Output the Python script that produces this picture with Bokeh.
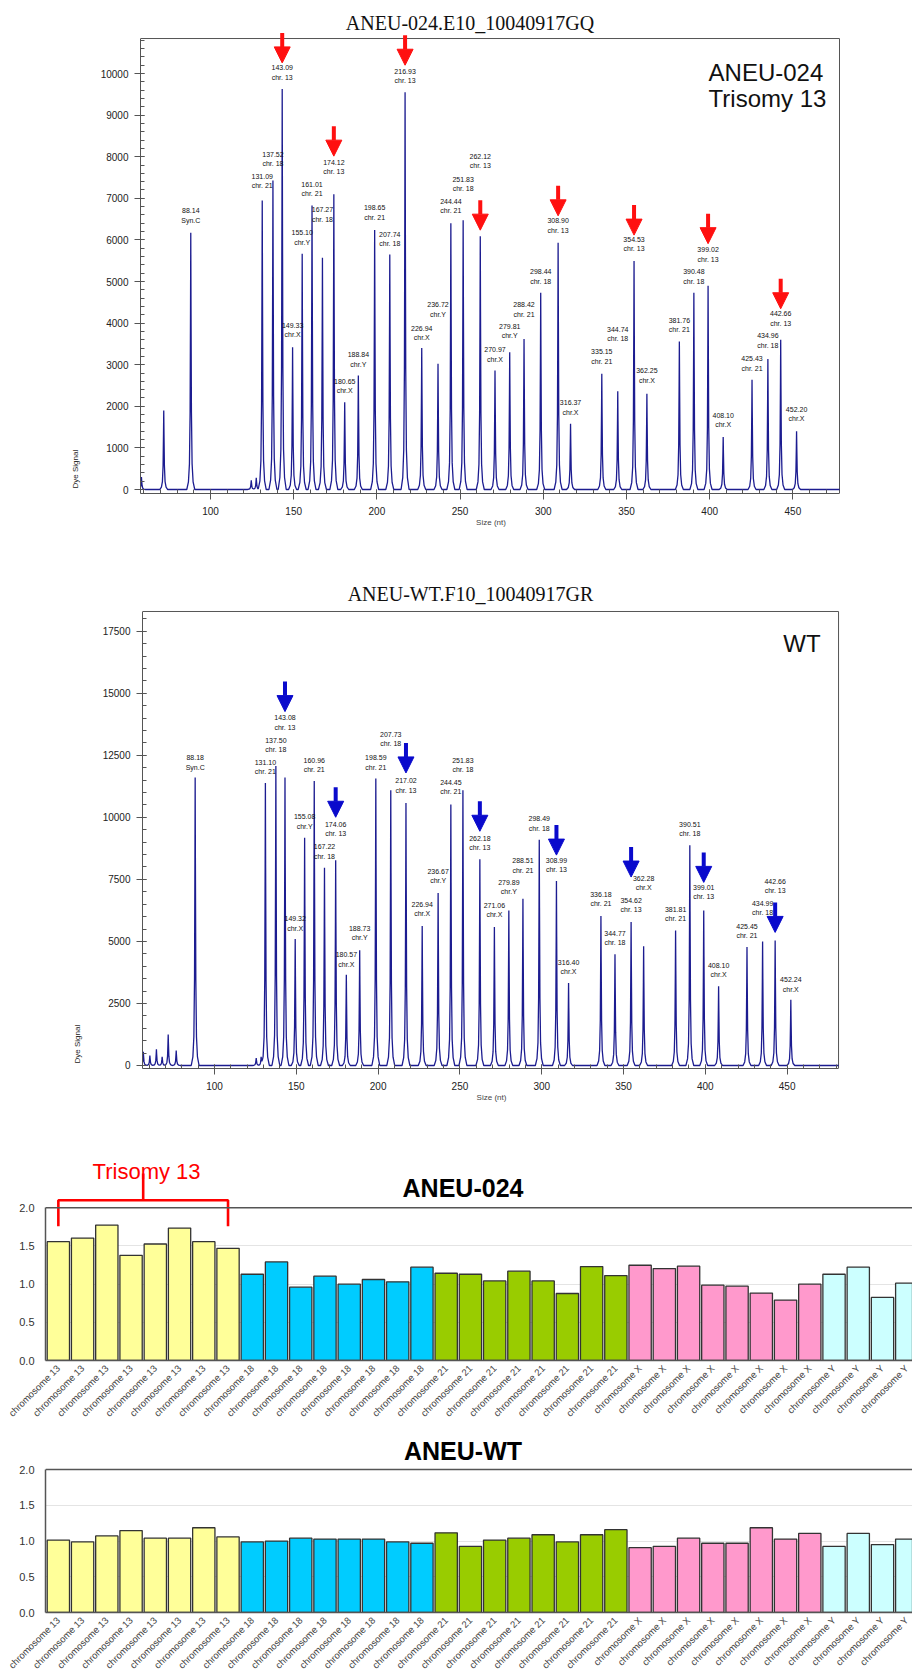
import numpy as np
from bokeh.plotting import figure
from bokeh.models import (Range1d, FixedTicker, Arrow, NormalHead, Span, Title,
                          PrintfTickFormatter, ColumnDataSource)
from bokeh.embed import file_html
from bokeh.resources import INLINE
from bokeh.core.properties import value

# ---------------- DATA: ANEU-024 electropherogram ----------------
a_sizes = [88.14, 131.09, 137.52, 143.09, 149.33, 155.10, 161.01, 167.27, 174.12, 180.65,
           188.84, 198.65, 207.74, 216.93, 226.94, 236.72, 244.44, 251.83, 262.12, 270.97,
           279.81, 288.42, 298.44, 308.90, 316.37, 335.15, 344.74, 354.53, 362.25, 381.76,
           390.48, 399.02, 408.10, 425.43, 434.96, 442.66, 452.20]
a_heights = [6170, 6950, 7430, 9630, 3420, 5670, 6830, 5570, 7100, 2100,
             2740, 6240, 5650, 9550, 3400, 3020, 6400, 6470, 6090, 2860,
             3300, 3620, 4730, 5930, 1580, 2780, 2360, 5490, 2300, 3560,
             4730, 4900, 1260, 2640, 3140, 3600, 1400]
a_targets = ["Syn.C", "chr. 21", "chr. 18", "chr. 13", "chr.X", "chr.Y", "chr. 21", "chr. 18", "chr. 13", "chr.X",
             "chr.Y", "chr. 21", "chr. 18", "chr. 13", "chr.X", "chr.Y", "chr. 21", "chr. 18", "chr. 13", "chr.X",
             "chr.Y", "chr. 21", "chr. 18", "chr. 13", "chr.X", "chr. 21", "chr. 18", "chr. 13", "chr.X", "chr. 21",
             "chr. 18", "chr. 13", "chr.X", "chr. 21", "chr. 18", "chr. 13", "chr.X"]
a_small_sizes = [58.5, 71.9, 124.5, 127.5]
a_small_heights = [300, 1900, 220, 280]

# ---------------- DATA: ANEU-WT electropherogram ----------------
w_sizes = [88.18, 131.10, 137.50, 143.08, 149.32, 155.08, 160.96, 167.22, 174.06, 180.57,
           188.73, 198.59, 207.73, 217.02, 226.94, 236.67, 244.45, 251.83, 262.18, 271.06,
           279.89, 288.51, 298.49, 308.99, 316.40, 336.18, 344.77, 354.62, 362.28, 381.81,
           390.51, 399.01, 408.10, 425.45, 434.99, 442.66, 452.24]
w_heights = [11600, 11380, 12070, 11600, 5100, 9180, 11460, 7970, 8270, 3660,
             4640, 11560, 11090, 10580, 5620, 6950, 10520, 11090, 8310, 5580,
             6250, 6720, 9100, 7430, 3320, 6020, 4480, 5780, 4800, 5440,
             8870, 6250, 3190, 4770, 5000, 5040, 2650]
w_targets = a_targets
w_small_sizes = [56.5, 60.5, 64.5, 68.0, 71.7, 76.6, 125.5, 128.5]
w_small_heights = [550, 400, 650, 350, 1250, 600, 300, 350]

# ---------------- DATA: ratio bar charts ----------------
bar_categories = (["chromosome 13"] * 8 + ["chromosome 18"] * 8 + ["chromosome 21"] * 8
                  + ["chromosome X"] * 8 + ["chromosome Y"] * 4)
bar_aneu024 = [1.557, 1.604, 1.774, 1.378, 1.526, 1.735, 1.557, 1.470,
               1.130, 1.291, 0.961, 1.104, 1.000, 1.061, 1.030, 1.222,
               1.143, 1.130, 1.043, 1.170, 1.043, 0.878, 1.230, 1.113,
               1.248, 1.204, 1.235, 0.987, 0.974, 0.883, 0.791, 1.000,
               1.130, 1.222, 0.826, 1.013]
bar_wt = [1.013, 0.987, 1.071, 1.146, 1.040, 1.040, 1.186, 1.058,
          0.987, 1.000, 1.040, 1.027, 1.027, 1.027, 0.987, 0.969,
          1.115, 0.925, 1.013, 1.040, 1.088, 0.987, 1.088, 1.159,
          0.907, 0.925, 1.040, 0.969, 0.969, 1.186, 1.027, 1.106,
          0.925, 1.106, 0.951, 1.027]

# ---------------- STYLE ----------------
chrom_colors = {"chromosome 13": "#FFFF99", "chromosome 18": "#00CCFF", "chromosome 21": "#99CC00",
                "chromosome X": "#FF99CC", "chromosome Y": "#CCFFFF"}
FONT = "Liberation Sans"
SERIF = "Liberation Serif"
PAGE_W = 912
BOX = "#555555"

a_label_gaps = [9, 11, 13, 8, 9, 8, 8, 35, 19, 8, 8, 9, 7, 8, 7, 46, 9, 28, 67, 8,
                13, 21, 8, 9, 8, 9, 49, 9, 10, 8, 8, 23, 9, 8, 10, 13, 9]
w_label_gaps = [7, 8, 13, 47, 7, 8, 8, 8, 23, 7, 9, 8, 43, 9, 9, 9, 9, 17, 8, 9,
                15, 25, 8, 8, 8, 9, 8, 9, 55, 8, 8, 10, 8, 8, 25, 46, 7]
a_arrow_tips = [26, 38, 27, 6, 27, 26, 42, 31]
w_arrow_tips = [66, 43, 30, 28, 26, 45, 28, 8]

SHAPE_DX = np.array([-2.4, -1.4, -0.8, -0.4, -0.15, 0.0, 0.15, 0.4, 0.8, 1.4, 2.4])
SHAPE_FR = np.array([0.0, 0.03, 0.10, 0.30, 0.70, 1.0, 0.70, 0.30, 0.10, 0.03, 0.0])


def build_trace(sizes, heights, x0, x1):
    xs = np.unique(np.concatenate([np.array([x0, x1])] + [s + SHAPE_DX for s in sizes]))
    ys = np.zeros_like(xs)
    for s, h in zip(sizes, heights):
        ys += h * np.interp(xs, s + SHAPE_DX, SHAPE_FR, left=0.0, right=0.0)
    return xs, ys


def electro(H, bl, fw, fh, xr, yr, box_right, box_top, yticks, yminor, sizes, heights, targets, gaps,
            small_s, small_h, arrow_tips, arrow_color, title, title_y, corner, corner_x, corner_y,
            corner_align):
    p = figure(width=PAGE_W, height=H, x_range=Range1d(*xr), y_range=Range1d(*yr),
               output_backend="svg", toolbar_location=None,
               min_border_left=bl, min_border_right=PAGE_W - bl - fw,
               min_border_top=0, min_border_bottom=H - fh)
    upx = (yr[1] - yr[0]) / fh
    xpx = (xr[1] - xr[0]) / fw
    p.grid.visible = False
    p.outline_line_color = None
    p.background_fill_color = "white"
    for ax in (p.xaxis[0], p.yaxis[0]):
        ax.axis_line_color = BOX
        ax.major_tick_line_color = BOX
        ax.minor_tick_line_color = BOX
        ax.major_tick_in = 4
        ax.major_tick_out = 6
        ax.minor_tick_in = 4
        ax.minor_tick_out = 0
        ax.major_label_text_font = FONT
        ax.major_label_text_font_size = "10px"
        ax.major_label_text_color = "#222222"
    p.xaxis.major_label_standoff = 7
    p.yaxis.major_label_standoff = 6
    p.xaxis.bounds = (xr[0], box_right)
    p.yaxis.bounds = (yr[0], box_top)
    p.xaxis.ticker = FixedTicker(ticks=list(range(100, 451, 50)), minor_ticks=list(range(60, 481, 10)))
    p.yaxis.ticker = FixedTicker(ticks=yticks, minor_ticks=yminor)
    p.xaxis.axis_label = "Size (nt)"
    p.xaxis.axis_label_text_font = FONT
    p.xaxis.axis_label_text_font_size = "8px"
    p.xaxis.axis_label_text_font_style = "normal"
    p.xaxis.axis_label_standoff = 0

    # box: top and right edges
    p.line([xr[0], box_right], [box_top, box_top], line_color=BOX, line_width=1)
    p.line([box_right, box_right], [yr[0], box_top], line_color=BOX, line_width=1)

    # vertical axis label starting near the bottom of the frame
    p.add_layout(Title(text="Dye Signal", align="left", offset=5, text_font=FONT, text_font_size="8px",
                       text_font_style="normal", text_color="#222222", standoff=36), "left")

    xs, ys = build_trace(list(sizes) + list(small_s), list(heights) + list(small_h), xr[0], box_right)
    p.line(xs, ys, line_color="#1c1c90", line_width=1.3)

    labels = [f"{s:.2f}\n{t}" for s, t in zip(sizes, targets)]
    src = ColumnDataSource(dict(x=sizes, y=heights, text=labels, yo=[-g for g in gaps]))
    p.text(x="x", y="y", text="text", y_offset="yo", source=src, text_align="center",
           text_baseline="bottom", text_font=value(FONT), text_font_size="7px",
           text_line_height=1.35, text_color="#111111")

    idx13 = [i for i, t in enumerate(targets) if t == "chr. 13"]
    for i, tip in zip(idx13, arrow_tips):
        y_end = heights[i] + tip * upx
        y_start = y_end + 30 * upx
        p.add_layout(Arrow(end=NormalHead(size=16, fill_color=arrow_color, line_color=arrow_color, line_width=1),
                           x_start=sizes[i], y_start=y_start, x_end=sizes[i], y_end=y_end,
                           line_color=arrow_color, line_width=4))

    tx = (xr[0] + box_right) / 2 - 20 * xpx
    p.text(x=[tx], y=[title_y], text=[title], text_align="center", text_baseline="alphabetic",
           text_font=value(SERIF), text_font_size="20px", text_color="#111111")
    p.text(x=[corner_x] * len(corner), y=[corner_y - k * 26 * upx for k in range(len(corner))],
           text=corner, text_align=corner_align, text_baseline="alphabetic",
           text_font=value(FONT), text_font_size="24px", text_color="#111111")
    return p


def bars(H, bt, fh, ppu, vals, title, bracket):
    bl = 45
    fw = PAGE_W - bl
    pitch = 24.24
    x0 = -0.53
    x1 = x0 + fw / pitch
    yend = fh / ppu
    p = figure(width=PAGE_W, height=H, x_range=Range1d(x0, x1), y_range=Range1d(0, yend),
               output_backend="svg", toolbar_location=None,
               min_border_left=bl, min_border_right=0, min_border_top=bt,
               min_border_bottom=H - bt - fh)
    p.outline_line_color = None
    p.xgrid.visible = False
    p.ygrid.ticker = FixedTicker(ticks=[0.5, 1.0, 1.5])
    p.ygrid.grid_line_color = "#e4e4e4"
    p.ygrid.grid_line_width = 1
    p.add_layout(Span(location=2.0, dimension="width", line_color=BOX, line_width=1.5))
    xs = list(range(len(vals)))
    colors = [chrom_colors[c] for c in bar_categories]
    p.vbar(x=xs, top=vals, width=0.92, bottom=0, fill_color=colors, line_color="#333333", line_width=1.3)

    ya = p.yaxis[0]
    ya.bounds = (0, 2)
    ya.ticker = FixedTicker(ticks=[0, 0.5, 1.0, 1.5, 2.0])
    ya.formatter = PrintfTickFormatter(format="%.1f")
    ya.major_tick_in = 0
    ya.major_tick_out = 0
    ya.minor_tick_line_color = None
    ya.axis_line_color = BOX
    ya.axis_line_width = 1.5
    ya.major_label_text_font = FONT
    ya.major_label_text_font_size = "11px"
    ya.major_label_text_color = "#333333"
    ya.major_label_standoff = 11

    xa = p.xaxis[0]
    xa.ticker = FixedTicker(ticks=xs)
    xa.major_label_overrides = {i: c for i, c in enumerate(bar_categories)}
    xa.major_label_orientation = np.pi / 4
    xa.major_tick_in = 0
    xa.major_tick_out = 0
    xa.minor_tick_line_color = None
    xa.axis_line_color = BOX
    xa.axis_line_width = 1.5
    xa.major_label_text_font = FONT
    xa.major_label_text_font_size = "9.5px"
    xa.major_label_text_color = "#444444"
    xa.major_label_standoff = 6

    tx = x0 + (462.5 - bl) / pitch
    p.text(x=[tx], y=[2.256], text=[title], text_align="center", text_baseline="alphabetic",
           text_font=value(FONT), text_font_size="25px", text_font_style="bold", text_color="#000000")

    if bracket:
        idx = [i for i, c in enumerate(bar_categories) if c == "chromosome 13"]
        a, b = idx[0], idx[-1]
        m = (a + b) / 2
        red = "#FF0000"
        p.line([a, a, b, b], [1.76, 2.099, 2.099, 1.76], line_color=red, line_width=2.6)
        p.line([m, m], [2.099, 2.45], line_color=red, line_width=2.6)
        p.text(x=[m + 0.14], y=[2.47], text=["Trisomy 13"], text_align="center", text_baseline="alphabetic",
               text_font=value(FONT), text_font_size="22px", text_color=red)
    return p


# panel 1: box x 140..839, y 38..493 ; 100 nt at x=210, 1.664 px/nt ; 0 at y=489, 41.6 px/1000
f1 = electro(H=545, bl=140, fw=701, fh=493, xr=(57.93, 479.2), yr=(-96, 11755),
             box_right=478.0, box_top=10841,
             yticks=list(range(0, 10001, 1000)), yminor=list(range(0, 10801, 200)),
             sizes=a_sizes, heights=a_heights, targets=a_targets, gaps=a_label_gaps,
             small_s=a_small_sizes, small_h=a_small_heights, arrow_tips=a_arrow_tips,
             arrow_color="#FF1010", title="ANEU-024.E10_10040917GQ", title_y=11226,
             corner=["ANEU-024", "Trisomy 13"], corner_x=399.3, corner_y=10024, corner_align="left")

# panel 2: box x 142..838, y 611..1068 ; 100 nt at x=214, 1.636 px/nt ; 0 at y=1065, 24.817 px/1000
f2 = electro(H=580, bl=142, fw=698, fh=523, xr=(55.99, 482.6), yr=(-121, 20953),
             box_right=481.4, box_top=18294,
             yticks=list(range(0, 17501, 2500)), yminor=list(range(0, 18001, 500)),
             sizes=w_sizes, heights=w_heights, targets=w_targets, gaps=w_label_gaps,
             small_s=w_small_sizes, small_h=w_small_heights, arrow_tips=w_arrow_tips,
             arrow_color="#0A0ACC", title="ANEU-WT.F10_10040917GR", title_y=19007,
             corner=["WT"], corner_x=470.4, corner_y=16992, corner_align="right")

f3 = bars(H=300, bt=25, fh=211, ppu=76.7, vals=bar_aneu024, title="ANEU-024", bracket=True)
f4 = bars(H=252, bt=3, fh=194, ppu=75.35, vals=bar_wt, title="ANEU-WT", bracket=False)

open("out.html", "w").write(file_html([f1, f2, f3, f4], INLINE))
